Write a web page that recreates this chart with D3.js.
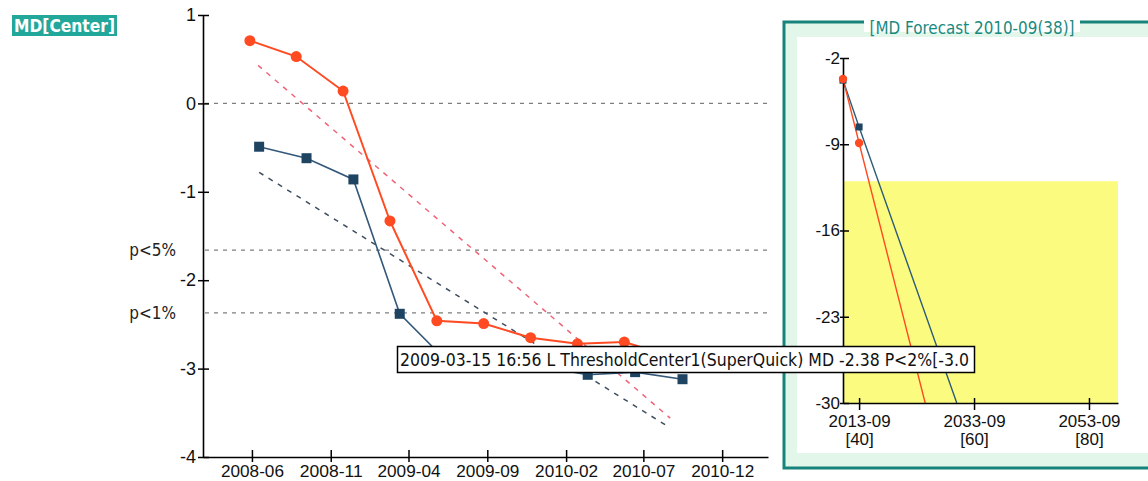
<!DOCTYPE html>
<html><head><meta charset="utf-8">
<script src="https://cdnjs.cloudflare.com/ajax/libs/d3/7.8.5/d3.min.js"></script>
<style>
body{margin:0;background:#fff;}
svg{display:block;font-family:"DejaVu Sans Condensed","DejaVu Sans",sans-serif;font-stretch:condensed;}
</style></head>
<body><svg id="c" width="1148" height="481"></svg>
<script>
// ---------- data ----------
const orangeDates = ["2008-05-28","2008-08-26","2008-11-25","2009-02-24","2009-05-26","2009-08-25","2009-11-24","2010-02-23","2010-05-25","2010-08-24"];
const orangeValues = [0.71,0.53,0.14,-1.33,-2.46,-2.49,-2.65,-2.72,-2.70,-2.86];
const blueDates = ["2008-06-15","2008-09-15","2008-12-15","2009-03-15","2009-06-15","2009-09-15","2009-12-15","2010-03-15","2010-06-15","2010-09-15"];
const blueValues = [-0.49,-0.62,-0.86,-2.38,-2.92,-2.95,-2.98,-3.07,-3.04,-3.12];
const orangeTrendDates = ["2008-06-13","2010-08-22"];
const orangeTrendValues = [0.43,-3.56];
const blueTrendDates = ["2008-06-15","2010-08-22"];
const blueTrendValues = [-0.78,-3.67];
const refValues = [0,-1.66,-2.37];
const refLabels = ["","p<5%","p<1%"];
const yTicks = [1,0,-1,-2,-3,-4];
const xTickLabels = ["2008-06","2008-11","2009-04","2009-09","2010-02","2010-07","2010-12"];
const xDomain = ["2008-02-27","2011-02-28"];
const title = "MD[Center]";
const tooltipText = "2009-03-15 16:56 L ThresholdCenter1(SuperQuick) MD -2.38 P<2%[-3.0";

// inset
const insetTitle = "[MD Forecast 2010-09(38)]";
const insetOrangeX = [37.2,40,51.5];
const insetOrangeY = [-3.7,-8.9,-30];
const insetBlueX = [37.2,40,57];
const insetBlueY = [-3.8,-7.6,-30];
const insetMarkerCount = 2;
const insetYTicks = [-2,-9,-16,-23,-30];
const insetXTicks = [40,60,80];
const insetXLabels1 = ["2013-09","2033-09","2053-09"];
const insetXLabels2 = ["[40]","[60]","[80]"];
const insetXDomain = [37.2,85.05];
const insetYDomain = [-30,-2];
const yellowTop = -12;

// ---------- drawing ----------
const svg = d3.select("#c");
const P = d3.timeParse("%Y-%m-%d");
const PM = d3.timeParse("%Y-%m");
const ORANGE = "#ff4a22", BLUE = "#1e4462", BLUEL = "#34587a";
const fmt = d => String(d);

const x = d3.scaleTime().domain(xDomain.map(P)).range([203,768]);
const y = d3.scaleLinear().domain([-4,1]).range([457,15]);

// title
svg.append("rect").attr("x",12).attr("y",15).attr("width",105).attr("height",21).attr("fill","#22a89a");
svg.append("text").attr("x",14).attr("y",32).attr("fill","#fff").attr("font-weight","bold")
  .attr("font-size",17).attr("textLength",101).attr("lengthAdjust","spacingAndGlyphs").text(title);

// reference lines
const g = svg.append("g");
refValues.forEach((v,i)=>{
  g.append("line").attr("x1",205).attr("x2",770).attr("y1",y(v)).attr("y2",y(v))
    .attr("stroke","#7e7e7e").attr("stroke-width",1.4).attr("stroke-dasharray","4,5");
  if(refLabels[i]) g.append("text").attr("x",176).attr("y",y(v)+6).attr("text-anchor","end")
    .attr("font-size",17).attr("fill","#222").text(refLabels[i]);
});

// trend lines
const ln = d3.line().x(d=>x(d[0])).y(d=>y(d[1]));
g.append("path").datum(orangeTrendDates.map((d,i)=>[P(d),orangeTrendValues[i]])).attr("d",ln)
  .attr("fill","none").attr("stroke","#ee6478").attr("stroke-width",1.5).attr("stroke-dasharray","5,6");
g.append("path").datum(blueTrendDates.map((d,i)=>[P(d),blueTrendValues[i]])).attr("d",ln)
  .attr("fill","none").attr("stroke","#3e4e60").attr("stroke-width",1.5).attr("stroke-dasharray","5,6");

// axes
const yAxis = d3.axisLeft(y).tickValues(yTicks).tickSize(0).tickFormat(fmt);
const ya = g.append("g").attr("transform","translate(203,0)").call(yAxis);
ya.select(".domain").attr("stroke","#000").attr("stroke-width",1.6);
ya.selectAll(".tick text").attr("x",-7).attr("font-size",18).attr("fill","#111").attr("font-family",null);
ya.selectAll(".tick").append("line").attr("x1",-5).attr("x2",6).attr("stroke","#000").attr("stroke-width",1.5);

const xAxis = d3.axisBottom(x).tickValues(xTickLabels.map(PM)).tickSize(0).tickFormat(d3.timeFormat("%Y-%m"));
const xa = g.append("g").attr("transform","translate(0,457)").call(xAxis);
xa.select(".domain").attr("stroke","#000").attr("stroke-width",1.6);
xa.selectAll(".tick text").attr("y",8).attr("dy","0.71em").attr("font-size",17).attr("fill","#111").attr("font-family",null)
  .attr("textLength",63).attr("lengthAdjust","spacingAndGlyphs");
xa.selectAll(".tick").append("line").attr("y1",-7).attr("y2",5).attr("stroke","#000").attr("stroke-width",1.5);

// series
const blueData = blueDates.map((d,i)=>[P(d),blueValues[i]]);
const orangeData = orangeDates.map((d,i)=>[P(d),orangeValues[i]]);
g.append("path").datum(blueData).attr("d",ln).attr("fill","none").attr("stroke",BLUEL).attr("stroke-width",1.6);
g.selectAll(".bsq").data(blueData).enter().append("rect")
  .attr("x",d=>x(d[0])-5).attr("y",d=>y(d[1])-5).attr("width",10).attr("height",10).attr("fill",BLUE);
g.append("path").datum(orangeData).attr("d",ln).attr("fill","none").attr("stroke",ORANGE).attr("stroke-width",2);
g.selectAll(".oc").data(orangeData).enter().append("circle")
  .attr("cx",d=>x(d[0])).attr("cy",d=>y(d[1])).attr("r",5.5).attr("fill",ORANGE);

// ---------- inset ----------
const ig = svg.append("g");
ig.append("rect").attr("x",784).attr("y",22).attr("width",380).attr("height",446)
  .attr("fill","#e3f6ea").attr("stroke","#17837a").attr("stroke-width",3);
ig.append("rect").attr("x",797).attr("y",37).attr("width",360).attr("height",416).attr("fill","#fff");
ig.append("rect").attr("x",864).attr("y",12).attr("width",216).attr("height",20).attr("fill","#fff");
ig.append("text").attr("x",972).attr("y",34).attr("text-anchor","middle").attr("font-size",18)
  .attr("fill","#1a8a80").attr("textLength",205).attr("lengthAdjust","spacingAndGlyphs").text(insetTitle);

const ix = d3.scaleLinear().domain(insetXDomain).range([843,1118]);
const iy = d3.scaleLinear().domain(insetYDomain).range([403,58]);
ig.append("rect").attr("x",ix(insetXDomain[0])).attr("y",iy(yellowTop))
  .attr("width",ix(insetXDomain[1])-ix(insetXDomain[0])).attr("height",iy(insetYDomain[0])-iy(yellowTop))
  .attr("fill","#fbfb80");

ig.append("clipPath").attr("id","ic").append("rect").attr("x",843).attr("y",50).attr("width",280).attr("height",353);
const il = d3.line().x(d=>ix(d[0])).y(d=>iy(d[1]));
const iO = insetOrangeX.map((v,i)=>[v,insetOrangeY[i]]);
const iB = insetBlueX.map((v,i)=>[v,insetBlueY[i]]);
const pg = ig.append("g").attr("clip-path","url(#ic)");
pg.append("path").datum(iB).attr("d",il).attr("fill","none").attr("stroke","#2e5c78").attr("stroke-width",1.4);
pg.append("path").datum(iO).attr("d",il).attr("fill","none").attr("stroke",ORANGE).attr("stroke-width",1.4);

const iya = ig.append("g").attr("transform","translate(843,0)")
  .call(d3.axisLeft(iy).tickValues(insetYTicks).tickSize(0).tickFormat(fmt));
iya.select(".domain").attr("stroke","#000").attr("stroke-width",1.6);
iya.selectAll(".tick text").attr("x",-3).attr("font-size",17).attr("fill","#111").attr("font-family",null);
iya.selectAll(".tick").append("line").attr("x1",-3).attr("x2",6).attr("stroke","#000").attr("stroke-width",1.5);

const ixa = ig.append("g").attr("transform","translate(0,403)")
  .call(d3.axisBottom(ix).tickValues(insetXTicks).tickSize(0).tickFormat((d,i)=>insetXLabels1[i]));
ixa.select(".domain").attr("stroke","#000").attr("stroke-width",1.6);
ixa.selectAll(".tick text").attr("y",12).attr("font-size",17).attr("fill","#111").attr("font-family",null)
  .attr("textLength",62).attr("lengthAdjust","spacingAndGlyphs");
ixa.selectAll(".tick").append("text").attr("y",42).attr("font-size",17).attr("fill","#111")
  .attr("text-anchor","middle").text((d,i)=>insetXLabels2[i]);
ixa.selectAll(".tick").append("line").attr("y1",-5).attr("y2",7).attr("stroke","#000").attr("stroke-width",1.5);

ig.selectAll(".ib").data(iB.slice(0,insetMarkerCount)).enter().append("rect")
  .attr("x",d=>ix(d[0])-3.5).attr("y",d=>iy(d[1])-3.5).attr("width",7).attr("height",7).attr("fill",BLUE);
ig.selectAll(".io").data(iO.slice(0,insetMarkerCount)).enter().append("circle")
  .attr("cx",d=>ix(d[0])).attr("cy",d=>iy(d[1])).attr("r",4.2).attr("fill",ORANGE);

// tooltip
const tt = svg.append("g");
tt.append("rect").attr("x",397.5).attr("y",346.5).attr("width",577).attr("height",26)
  .attr("fill","#fff").attr("stroke","#000").attr("stroke-width",1.5);
tt.append("text").attr("x",400).attr("y",366).attr("font-size",18).attr("fill","#111")
  .attr("textLength",569).attr("lengthAdjust","spacingAndGlyphs").text(tooltipText);
</script></body></html>
